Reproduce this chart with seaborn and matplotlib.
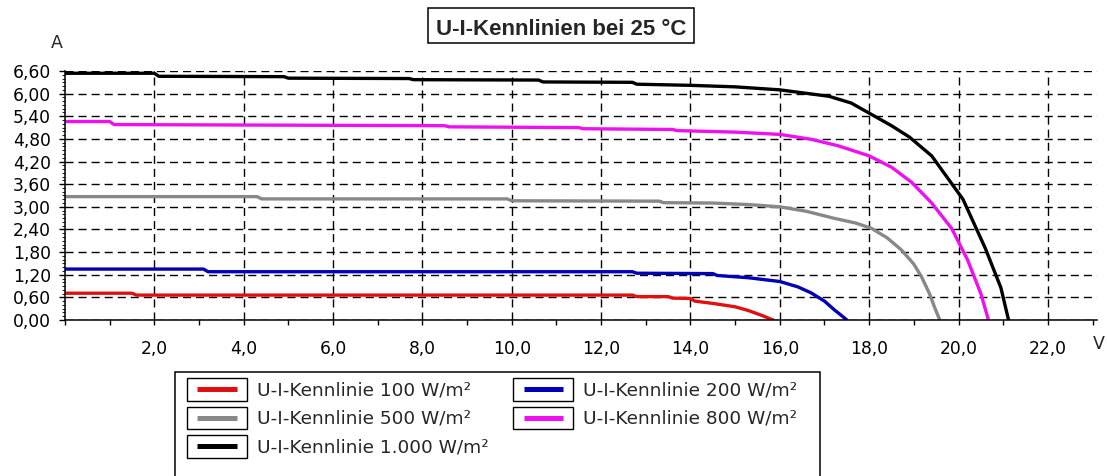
import matplotlib
matplotlib.use("Agg")
import matplotlib.pyplot as plt
import seaborn as sns
import pandas as pd
from matplotlib.patches import Rectangle
from matplotlib.lines import Line2D
from matplotlib.legend_handler import HandlerBase
from matplotlib.ticker import FuncFormatter, MultipleLocator

# U-I curves (voltage in V, current in A)
v_100 = [0, 1.5, 1.6, 12.7, 12.8, 13.5, 13.6, 14.0, 14.1, 14.5, 15.0, 15.3, 15.6, 15.85]
i_100 = [0.71, 0.71, 0.66, 0.66, 0.62, 0.62, 0.58, 0.57, 0.50, 0.44, 0.35, 0.25, 0.12, 0.0]

v_200 = [0, 3.1, 3.2, 12.7, 12.8, 14.5, 14.6, 15.3, 16.0, 16.4, 16.7, 17.0, 17.22, 17.4, 17.5]
i_200 = [1.35, 1.35, 1.28, 1.28, 1.24, 1.23, 1.18, 1.12, 1.02, 0.88, 0.72, 0.5, 0.27, 0.1, 0.0]

v_500 = [0, 4.3, 4.4, 9.9, 10.0, 13.3, 13.4, 14.5, 15.3, 16.0, 16.6, 17.2, 17.7, 18.05,
         18.4, 18.72, 19.0, 19.17, 19.35, 19.46, 19.58]
i_500 = [3.27, 3.27, 3.21, 3.21, 3.16, 3.15, 3.11, 3.10, 3.06, 3.0, 2.88, 2.70, 2.57, 2.43,
         2.18, 1.86, 1.48, 1.15, 0.7, 0.35, 0.0]

v_800 = [0, 1.0, 1.1, 8.5, 8.6, 11.5, 11.6, 13.6, 13.7, 15.0, 16.0, 16.7, 17.3, 18.0,
         18.5, 18.95, 19.4, 19.85, 20.2, 20.5, 20.67]
i_800 = [5.26, 5.26, 5.18, 5.15, 5.12, 5.10, 5.07, 5.05, 5.02, 4.98, 4.92, 4.79, 4.62, 4.35,
         4.05, 3.65, 3.1, 2.42, 1.6, 0.7, 0.0]

v_1000 = [0, 2.0, 2.1, 4.9, 5.0, 7.7, 7.8, 10.6, 10.7, 12.7, 12.8, 14.0, 15.0, 16.0, 17.1,
          17.6, 18.05, 18.5, 18.9, 19.4, 20.1, 20.6, 20.95, 21.05, 21.12]
i_1000 = [6.54, 6.54, 6.46, 6.45, 6.41, 6.40, 6.37, 6.36, 6.31, 6.30, 6.25, 6.22, 6.18, 6.10, 5.93,
          5.75, 5.45, 5.15, 4.85, 4.35, 3.2, 1.9, 0.85, 0.35, 0.0]

labels = ["U-I-Kennlinie 100 W/m²", "U-I-Kennlinie 500 W/m²", "U-I-Kennlinie 1.000 W/m²",
          "U-I-Kennlinie 200 W/m²", "U-I-Kennlinie 800 W/m²"]
colors = ["#e01010", "#888888", "#000000", "#0000b8", "#ee10ee"]
curves = [(v_100, i_100), (v_500, i_500), (v_1000, i_1000), (v_200, i_200), (v_800, i_800)]

frames = []
for lab, (v, i) in zip(labels, curves):
    frames.append(pd.DataFrame({"U": v, "I": i, "Kurve": lab}))
df = pd.concat(frames, ignore_index=True)

sns.set_style("white")
plt.rcParams["font.family"] = ["DejaVu Sans"]
plt.rcParams["lines.scale_dashes"] = False

W, H = 1107, 476
fig = plt.figure(figsize=(W / 100, H / 100), dpi=100, facecolor="white")
ax = fig.add_axes([65 / W, 1 - 320 / H, (1097 - 65) / W, (320 - 71) / H])

sns.lineplot(data=df, x="U", y="I", hue="Kurve", hue_order=labels, palette=colors,
             sort=False, estimator=None, linewidth=2.4, legend=False, ax=ax)

ax.set_xlim(0, 23.1)
ax.set_ylim(0, 6.6)
ax.set_xticks([2, 4, 6, 8, 10, 12, 14, 16, 18, 20, 22])
ax.set_yticks([0, 0.6, 1.2, 1.8, 2.4, 3.0, 3.6, 4.2, 4.8, 5.4, 6.0, 6.6])
ax.xaxis.set_minor_locator(MultipleLocator(1.0))
ax.yaxis.set_minor_locator(MultipleLocator(0.1))
ax.xaxis.set_major_formatter(FuncFormatter(lambda v, p: f"{v:.1f}".replace(".", ",")))
ax.yaxis.set_major_formatter(FuncFormatter(lambda v, p: f"{v:.2f}".replace(".", ",")))
ax.set_xlabel("")
ax.set_ylabel("")

ax.grid(True, which="major", color="black", linewidth=1.0, linestyle=(0, (5.8, 3.6)))
ax.set_axisbelow(True)
for s in ["top", "right"]:
    ax.spines[s].set_visible(False)
for s in ["left", "bottom"]:
    ax.spines[s].set_color("black")
    ax.spines[s].set_linewidth(1.1)

ax.tick_params(axis="y", which="major", direction="out", length=4, width=1, pad=6,
               labelsize=12.3, colors="black", left=True)
ax.tick_params(axis="y", which="minor", direction="out", length=2.5, width=0.8, left=True)
ax.tick_params(axis="x", which="both", direction="out", length=3.5, width=1, pad=11,
               labelsize=12.3, colors="black", bottom=True)

# axis units
fig.text(57 / W, 1 - 43 / H, "A", ha="center", va="center", fontsize=12.5)
fig.text(1093 / W, 1 - 344 / H, "V", ha="left", va="center", fontsize=12.5)

# boxed title
fig.add_artist(Rectangle((428 / W, 1 - 43 / H), 266 / W, 35 / H, transform=fig.transFigure,
                         fill=False, edgecolor="black", linewidth=1.1))
fig.text(561 / W, 1 - 35 / H, "U-I-Kennlinien bei 25 °C", ha="center", va="baseline",
         fontsize=16, fontweight="bold", family=["Liberation Sans", "DejaVu Sans"])


class BoxedLine(HandlerBase):
    def create_artists(self, legend, orig_handle, xdescent, ydescent, width, height, fontsize, trans):
        box = Rectangle((-xdescent, -ydescent), width, height, facecolor="white",
                        edgecolor="black", linewidth=1.0, transform=trans)
        y = -ydescent + height / 2
        line = Line2D([-xdescent + 0.17 * width, -xdescent + 0.83 * width], [y, y],
                      color=orig_handle.get_color(), linewidth=3.6, solid_capstyle="butt",
                      transform=trans)
        return [box, line]


handles = ax.get_lines()[:len(labels)]
fig.add_artist(Rectangle((175 / W, -0.2), (820 - 175) / W, 0.2 + 1 - 372 / H,
                         transform=fig.transFigure, fill=False, edgecolor="black", linewidth=1.1))
fig.legend(handles, labels, handler_map={Line2D: BoxedLine()}, loc="upper left",
           bbox_to_anchor=(187 / W, 1 - 378 / H), bbox_transform=fig.transFigure,
           ncol=2, frameon=False, fontsize=13.3, borderpad=0, borderaxespad=0,
           handlelength=3.24, handleheight=1.51, handletextpad=0.54, labelspacing=0.32,
           columnspacing=1.35)

fig.savefig("out.png", dpi=100, facecolor="white")
